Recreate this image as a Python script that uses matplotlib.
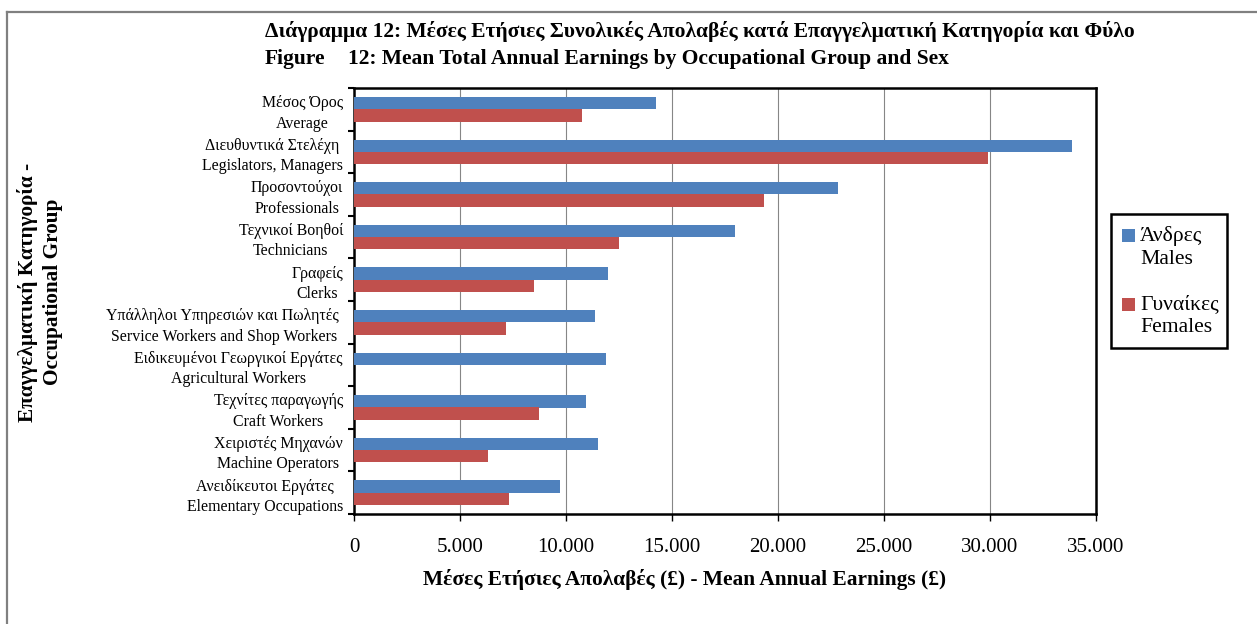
import numpy as np
import matplotlib
matplotlib.use("Agg")
import matplotlib.pyplot as plt
from matplotlib.patches import Rectangle
from matplotlib.lines import Line2D
from matplotlib.ticker import FuncFormatter, FixedLocator
from matplotlib.transforms import ScaledTranslation

plt.rcParams['font.family'] = ['Liberation Serif', 'DejaVu Serif']

categories_gr = ["Μέσος Όρος", "Διευθυντικά Στελέχη", "Προσοντούχοι", "Τεχνικοί Βοηθοί",
                 "Γραφείς", "Υπάλληλοι Υπηρεσιών και Πωλητές ", "Ειδικευμένοι Γεωργικοί Εργάτες",
                 "Τεχνίτες παραγωγής", "Χειριστές Μηχανών", "Ανειδίκευτοι Εργάτες"]
categories_en = ["Average", "Legislators, Managers", "Professionals", "Technicians",
                 "Clerks", "Service Workers and Shop Workers", "Agricultural Workers",
                 "Craft Workers", "Machine Operators", "Elementary Occupations"]
males = [14260, 33870, 22850, 17990, 12000, 11390, 11910, 10920, 11490, 9720]
females = [10760, 29900, 19360, 12520, 8500, 7190, np.nan, 8740, 6340, 7330]
series_names = ["Άνδρες\nMales", "Γυναίκες\nFemales"]
colors = ["#4F81BD", "#C0504D"]
x_ticks = [0, 5000, 10000, 15000, 20000, 25000, 30000, 35000]

W, H = 1257, 624
fig = plt.figure(figsize=(W / 100, H / 100), dpi=100)

def fx(x):
    return x / W

def fy(y):
    return 1 - y / H

# outer frame (grey)
fig.add_artist(Line2D([fx(7), fx(7)], [fy(12), 0], color="#808080", lw=1.6, transform=fig.transFigure))
fig.add_artist(Line2D([fx(7), 1], [fy(12), fy(12)], color="#808080", lw=1.6, transform=fig.transFigure))

L, R, T, B = 354, 1096, 88, 514
ax = fig.add_axes([fx(L), fy(B), fx(R - L), (B - T) / H])

n = len(categories_gr)
y = np.arange(n)
h = 0.29
ax.barh(y - h / 2, males, height=h, color=colors[0], zorder=3)
ax.barh(y + h / 2, females, height=h, color=colors[1], zorder=3)

ax.set_xlim(0, 35000)
ax.set_ylim(n - 0.5, -0.5)
ax.xaxis.set_major_locator(FixedLocator(x_ticks))
ax.xaxis.set_major_formatter(FuncFormatter(lambda v, p: f"{int(v):,}".replace(",", ".")))
ax.grid(axis="x", color="#868686", lw=0.8, zorder=0)
ax.set_axisbelow(True)

ax.set_yticks(np.arange(-0.5, n, 1.0))
ax.set_yticklabels([])
ax.set_yticks(y, minor=True)
labels = ax.set_yticklabels([f"{g}\n{e}" for g, e in zip(categories_gr, categories_en)], minor=True,
                            fontsize=11.4, multialignment="center", linespacing=1.36)
off = ScaledTranslation(0, 3 / 100, fig.dpi_scale_trans)
for lab in labels:
    lab.set_transform(lab.get_transform() + off)
ax.tick_params(axis="y", which="minor", length=0, pad=8)
ax.tick_params(axis="y", which="major", length=4.5, width=1.5, direction="out")
ax.tick_params(axis="x", which="major", length=5, width=1, direction="out", labelsize=15, pad=12)

for s in ax.spines.values():
    s.set_linewidth(1.8)
    s.set_color("black")

# titles
fs_title = 15.5
fig.text(fx(265), fy(31), "Διάγραμμα 12: Μέσες Ετήσιες Συνολικές Απολαβές κατά Επαγγελματική Κατηγορία και Φύλο",
         fontsize=fs_title, fontweight="bold", ha="left", va="center")
fig.text(fx(265), fy(59), "Figure", fontsize=fs_title, fontweight="bold", ha="left", va="center")
fig.text(fx(348), fy(59), "12: Mean Total Annual Earnings by Occupational Group and Sex",
         fontsize=fs_title, fontweight="bold", ha="left", va="center")

fig.text(fx(685), fy(580), "Μέσες Ετήσιες Απολαβές (£) - Mean Annual Earnings (£)",
         fontsize=15.4, fontweight="bold", ha="center", va="center")
fig.text(fx(40), fy(292), "Επαγγελματική Κατηγορία -\nOccupational Group", rotation=90,
         fontsize=15.3, fontweight="bold", ha="center", va="center", multialignment="center",
         linespacing=1.3)

# legend box
fig.add_artist(Rectangle((fx(1111), fy(348)), fx(1227 - 1111), (348 - 214) / H, fill=False,
                         edgecolor="black", lw=1.8, transform=fig.transFigure))
for i, (name, c) in enumerate(zip(series_names, colors)):
    top = 229 + i * 69
    fig.add_artist(Rectangle((fx(1122), fy(top + 13)), fx(13), 13 / H, facecolor=c,
                             edgecolor="none", transform=fig.transFigure))
    fig.text(fx(1140), fy(top - 3), name, fontsize=15.6, ha="left", va="top", linespacing=1.3)

fig.savefig("out.png", dpi=100, facecolor="white")
